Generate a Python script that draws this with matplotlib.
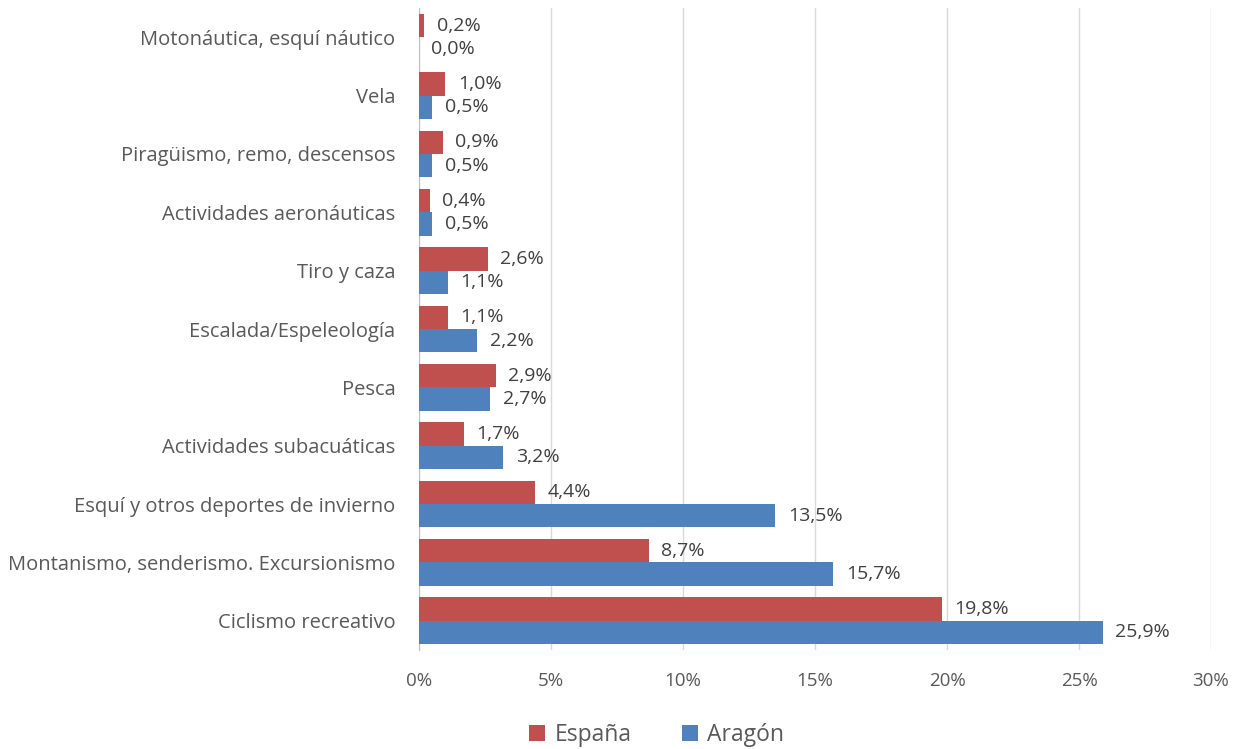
import numpy as np
import matplotlib.pyplot as plt
from matplotlib.ticker import FuncFormatter

categorias = [
    'Ciclismo recreativo',
    'Montanismo, senderismo. Excursionismo',
    'Esquí y otros deportes de invierno',
    'Actividades subacuáticas',
    'Pesca',
    'Escalada/Espeleología',
    'Tiro y caza',
    'Actividades aeronáuticas',
    'Piragüismo, remo, descensos',
    'Vela',
    'Motonáutica, esquí náutico',
]
espana = [19.8, 8.7, 4.4, 1.7, 2.9, 1.1, 2.6, 0.4, 0.9, 1.0, 0.2]
aragon = [25.9, 15.7, 13.5, 3.2, 2.7, 2.2, 1.1, 0.5, 0.5, 0.5, 0.0]

ROJO = '#C0504D'
AZUL = '#4F81BD'
GRIS = '#595959'

plt.rcParams['font.family'] = ['Open Sans', 'DejaVu Sans']

fig = plt.figure(figsize=(12.41, 7.49), dpi=100)
ax = fig.add_axes([419 / 1241, 1 - 650 / 749, (1211 - 419) / 1241, (650 - 8) / 749])

y = np.arange(len(categorias))
h = 0.4
b1 = ax.barh(y + h / 2, espana, height=h, color=ROJO, label='España', zorder=3)
b2 = ax.barh(y - h / 2, aragon, height=h, color=AZUL, label='Aragón', zorder=3)

for barras, vals in ((b1, espana), (b2, aragon)):
    for b, v in zip(barras, vals):
        ax.annotate(f'{v:.1f}%'.replace('.', ','),
                    (b.get_width(), b.get_y() + b.get_height() / 2),
                    xytext=(9, 0), textcoords='offset points',
                    va='center', ha='left', fontsize=14, color='#404040')

ax.set_xlim(0, 30)
ax.set_ylim(-0.5, len(categorias) - 0.5)
ax.set_xticks(np.arange(0, 31, 5))
ax.xaxis.set_major_formatter(FuncFormatter(lambda v, p: f'{v:.0f}%'))
ax.set_yticks(y)
ax.set_yticklabels(categorias)
ax.tick_params(axis='both', length=0, colors=GRIS)
ax.tick_params(axis='x', pad=16, labelsize=13.5)
ax.tick_params(axis='y', pad=17, labelsize=14.5)
ax.grid(axis='x', color='#D9D9D9', linewidth=1, zorder=0)
for s in ('top', 'right', 'bottom'):
    ax.spines[s].set_visible(False)
ax.spines['left'].set_color('#BFBFBF')

fig.legend(handles=[b1, b2], loc='center', bbox_to_anchor=(0.529, 1 - 735 / 749),
           ncol=2, frameon=False, fontsize=16.5, handlelength=0.7, handleheight=0.7,
           handletextpad=0.4, columnspacing=2.2, labelcolor=GRIS)

fig.savefig('out.png', dpi=100)
